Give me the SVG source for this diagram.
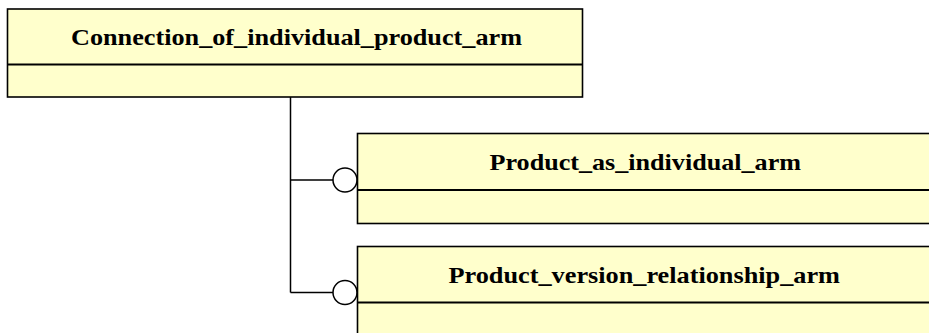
<svg xmlns="http://www.w3.org/2000/svg" width="929" height="333" viewBox="0 0 929 333">
<style>
.box{fill:#ffffcc;stroke:#000;stroke-width:1.6}
.div{stroke:#000;stroke-width:2;fill:none}
.lbl{font-family:"Liberation Serif","Times New Roman",serif;font-weight:bold;font-size:24px;fill:#000}
.conn{stroke:#000;stroke-width:1.5;fill:none}
.ring{fill:#fff;stroke:#000;stroke-width:1.5}
</style>
<rect width="929" height="333" fill="#fff"/>
<g id="connectors">
<path class="conn" d="M290.5 97 V292.5 M290.5 180 H333 M290.5 292.5 H333"/>
<circle class="ring" cx="345" cy="180" r="12"/>
<circle class="ring" cx="345" cy="292.5" r="12"/>
</g>
<g id="node-connection">
<rect class="box" x="7.5" y="9" width="575" height="88"/>
<line class="div" x1="7.5" y1="64.5" x2="582.5" y2="64.5"/>
<text class="lbl" x="71" y="45" textLength="451" lengthAdjust="spacingAndGlyphs">Connection_of_individual_product_arm</text>
</g>
<g id="node-product-as-individual">
<rect class="box" x="357.5" y="133.5" width="576" height="90"/>
<line class="div" x1="357.5" y1="190" x2="933" y2="190"/>
<text class="lbl" x="489.5" y="170" textLength="311.5" lengthAdjust="spacingAndGlyphs">Product_as_individual_arm</text>
</g>
<g id="node-product-version-relationship">
<rect class="box" x="357.5" y="246.5" width="576" height="100"/>
<line class="div" x1="357.5" y1="302.5" x2="933" y2="302.5"/>
<text class="lbl" x="448.5" y="283.3" textLength="391.5" lengthAdjust="spacingAndGlyphs">Product_version_relationship_arm</text>
</g>
</svg>
